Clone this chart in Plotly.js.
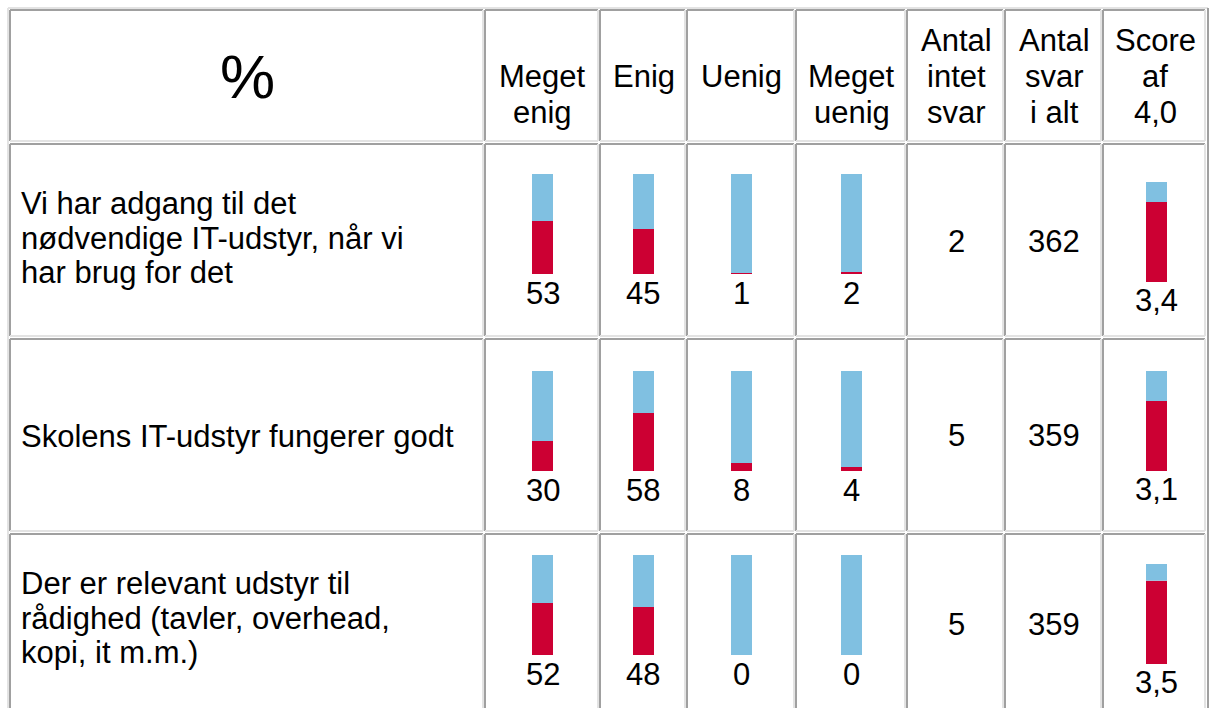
<!DOCTYPE html>
<html><head><meta charset="utf-8">
<script src="https://cdn.plot.ly/plotly-3.0.1.min.js"></script>
<style>html,body{margin:0;padding:0;background:#fff}#chart{width:1209px;height:708px}</style>
</head><body><div id="chart"></div>
<script>
// ---------- DATA ----------
const questions = [
  "Vi har adgang til det<br>nødvendige IT-udstyr, når vi<br>har brug for det",
  "Skolens IT-udstyr fungerer godt",
  "Der er relevant udstyr til<br>rådighed (tavler, overhead,<br>kopi, it m.m.)"
];
const cornerLabel = "%";
const responseLabels = ["Meget<br>enig", "Enig", "Uenig", "Meget<br>uenig"];
const countLabels = ["Antal<br>intet<br>svar", "Antal<br>svar<br>i alt", "Score<br>af<br>4,0"];
const megetEnig  = [53, 30, 52];
const enig       = [45, 58, 48];
const uenig      = [1, 8, 0];
const megetUenig = [2, 4, 0];
const intetSvar  = [2, 5, 5];
const svarIAlt   = [362, 359, 359];
const score      = [3.4, 3.1, 3.5];
const scoreMin = 1, scoreMax = 4;

// ---------- LAYOUT GEOMETRY (pixels) ----------
const W = 1209, H = 708;
const px = x => x / W;
const py = y => 1 - y / H;
const colL = [10, 485, 600, 687, 796, 907, 1005, 1103];
const colR = [483, 598, 685, 794, 905, 1003, 1101, 1205];
const rowT = [10, 144, 339, 534];
const rowB = [141, 336, 531, 760];
const textMid = [238, 437, 618];
const numMid = [241, 435, 624];
const pctBottom = [274, 471, 655];
const scoreBottom = [282, 471, 664];
const barH = 100, barW = 21;
const barCenters = [542.5, 643.5, 741.5, 851.5, 1156.5];

const RED = '#cc0033', BLUE = '#80c0e1';
const FONT = 'Liberation Sans, Arial, sans-serif';
const FS = 31;

const series = [megetEnig, enig, uenig, megetUenig];
const traces = [];
const annotations = [];
const layout = {
  width: W, height: H,
  margin: {l: 0, r: 0, t: 0, b: 0},
  paper_bgcolor: '#ffffff', plot_bgcolor: 'rgba(0,0,0,0)',
  barmode: 'overlay', showlegend: false,
  font: {family: FONT, size: FS, color: '#000'},
  shapes: [], annotations: annotations
};

// x axes: one per bar column
barCenters.forEach((c, k) => {
  const name = k === 0 ? 'xaxis' : 'xaxis' + (k + 1);
  layout[name] = {domain: [px(c - barW / 2), px(c + barW / 2)], range: [-0.5, 0.5],
    visible: false, fixedrange: true, anchor: 'free', position: 0};
});
// y axes: rows for percentages (1..3), rows for score (4..6)
for (let r = 0; r < 3; r++) {
  const n1 = r === 0 ? 'yaxis' : 'yaxis' + (r + 1);
  layout[n1] = {domain: [py(pctBottom[r]), py(pctBottom[r] - barH)], range: [0, 100],
    visible: false, fixedrange: true, anchor: 'free', position: 0};
  layout['yaxis' + (r + 4)] = {domain: [py(scoreBottom[r]), py(scoreBottom[r] - barH)],
    range: [scoreMin, scoreMax], visible: false, fixedrange: true, anchor: 'free', position: 0};
}
const xa = k => k === 0 ? 'x' : 'x' + (k + 1);
const ya = r => r === 0 ? 'y' : 'y' + (r + 1);

// percentage bars
series.forEach((vals, k) => {
  vals.forEach((v, r) => {
    traces.push({type: 'bar', x: [0], y: [v], base: [0], width: [1], xaxis: xa(k), yaxis: ya(r),
      marker: {color: RED, line: {width: 0}}, hoverinfo: 'skip'});
    traces.push({type: 'bar', x: [0], y: [100 - v], base: [v], width: [1], xaxis: xa(k), yaxis: ya(r),
      marker: {color: BLUE, line: {width: 0}}, hoverinfo: 'skip'});
    annotations.push({xref: xa(k), yref: ya(r), x: 0, y: 0, yanchor: 'top', yshift: 0,
      text: String(v), showarrow: false, font: {size: FS}});
  });
});
// score bars
score.forEach((s, r) => {
  traces.push({type: 'bar', x: [0], y: [s - scoreMin], base: [scoreMin], width: [1], xaxis: 'x5', yaxis: 'y' + (r + 4),
    marker: {color: RED, line: {width: 0}}, hoverinfo: 'skip'});
  traces.push({type: 'bar', x: [0], y: [scoreMax - s], base: [s], width: [1], xaxis: 'x5', yaxis: 'y' + (r + 4),
    marker: {color: BLUE, line: {width: 0}}, hoverinfo: 'skip'});
  annotations.push({xref: 'x5', yref: 'y' + (r + 4), x: 0, y: scoreMin, yanchor: 'top', yshift: 1,
    text: s.toFixed(1).replace('.', ','), showarrow: false, font: {size: FS}});
});

// ---------- TABLE GRID ----------
const DARK = '#a0a0a0', LIGHT = '#e3e3e3';
function line(x0, y0, x1, y1, color) {
  layout.shapes.push({type: 'line', xref: 'paper', yref: 'paper', x0: px(x0), y0: py(y0), x1: px(x1), y1: py(y1),
    line: {color: color, width: 2}, layer: 'below'});
}
// outer table border
line(8, 8, 1208, 8, LIGHT);
line(8, 8, 8, 760, LIGHT);
line(1208, 8, 1208, 760, DARK);
for (let r = 0; r < 4; r++) {
  for (let c = 0; c < 8; c++) {
    const L = colL[c], R = colR[c], T = rowT[r], B = rowB[r];
    line(L, T, R, T, DARK);
    line(L, T, L, B, DARK);
    line(L, B, R, B, LIGHT);
    line(R, T, R, B, LIGHT);
  }
}

// ---------- TEXT ----------
const colCenter = c => (colL[c] + colR[c]) / 2 + 1;
annotations.push({xref: 'paper', yref: 'paper', x: px(colCenter(0)), y: py(77), text: cornerLabel,
  showarrow: false, xanchor: 'center', yanchor: 'middle', font: {size: 62}});
const slots = [40, 77, 113];
function headerText(label, c) {
  const lines = label.split('<br>');
  const start = lines.length === 3 ? 0 : 1;
  lines.forEach((t, i) => {
    annotations.push({xref: 'paper', yref: 'paper', x: px(colCenter(c)), y: py(slots[start + i]), text: t,
      showarrow: false, xanchor: 'center', yanchor: 'middle', font: {size: FS}});
  });
}
responseLabels.forEach((l, i) => headerText(l, i + 1));
countLabels.forEach((l, i) => headerText(l, i + 5));

const LS = 34.7;
questions.forEach((q, r) => {
  const lines = q.split('<br>');
  lines.forEach((t, i) => {
    annotations.push({xref: 'paper', yref: 'paper', x: px(19), y: py(textMid[r] + (i - (lines.length - 1) / 2) * LS),
      text: t, showarrow: false, xanchor: 'left', yanchor: 'middle', font: {size: FS}});
  });
  annotations.push({xref: 'paper', yref: 'paper', x: px(colCenter(5)), y: py(numMid[r]), text: String(intetSvar[r]),
    showarrow: false, xanchor: 'center', yanchor: 'middle', font: {size: FS}});
  annotations.push({xref: 'paper', yref: 'paper', x: px(colCenter(6)), y: py(numMid[r]), text: String(svarIAlt[r]),
    showarrow: false, xanchor: 'center', yanchor: 'middle', font: {size: FS}});
});

Plotly.newPlot('chart', traces, layout, {staticPlot: true, displayModeBar: false});
</script>
</body></html>
